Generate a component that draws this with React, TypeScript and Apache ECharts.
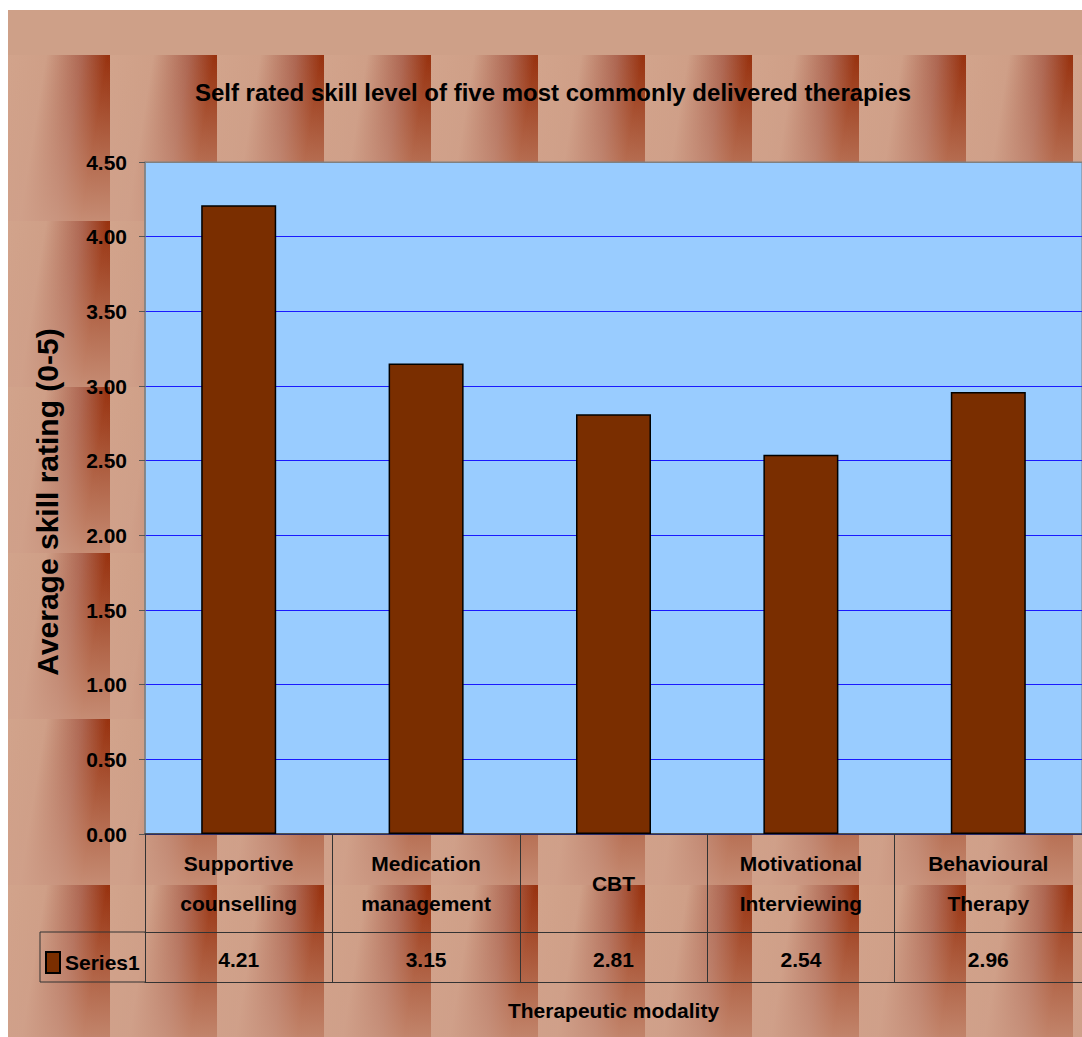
import React, { useEffect, useRef } from 'react';
import * as echarts from 'echarts';

const categories = ['Supportive counselling', 'Medication management', 'CBT', 'Motivational Interviewing', 'Behavioural Therapy'];
const values = [4.21, 3.15, 2.81, 2.54, 2.96];
const seriesName = 'Series1';
const yMin = 0;
const yMax = 4.5;
const yStep = 0.5;

const FONT = '"Liberation Sans", Arial, sans-serif';

const W = 1074;
const H = 1027;
const BG_TOP = 45;

function textureUrl() {
  const w = W;
  const h = H - BG_TOP;
  const svg =
    `<svg xmlns='http://www.w3.org/2000/svg' width='${w}' height='${h}'>` +
    `<defs>` +
    `<linearGradient id='h' x1='0' y1='0' x2='1' y2='0.25'>` +
    `<stop offset='0' stop-color='#d2a48c'/>` +
    `<stop offset='0.38' stop-color='#cf9f87'/>` +
    `<stop offset='0.7' stop-color='#ad6550'/>` +
    `<stop offset='0.92' stop-color='#98320f'/>` +
    `<stop offset='1' stop-color='#96300d'/>` +
    `</linearGradient>` +
    `<linearGradient id='v' x1='0' y1='0' x2='0' y2='1'>` +
    `<stop offset='0' stop-color='#d0a08a' stop-opacity='0'/>` +
    `<stop offset='0.25' stop-color='#d0a08a' stop-opacity='0.2'/>` +
    `<stop offset='0.6' stop-color='#d0a08a' stop-opacity='0.5'/>` +
    `<stop offset='1' stop-color='#d0a08a' stop-opacity='0.82'/>` +
    `</linearGradient>` +
    `<pattern id='p' x='-5' y='0' width='107' height='166' patternUnits='userSpaceOnUse'>` +
    `<rect width='107' height='166' fill='url(#h)'/>` +
    `<rect width='107' height='166' fill='url(#v)'/>` +
    `</pattern>` +
    `</defs>` +
    `<rect width='${w}' height='${h}' fill='url(#p)'/>` +
    `</svg>`;
  return 'data:image/svg+xml;charset=utf-8,' + encodeURIComponent(svg);
}

export default function App() {
  const ref = useRef<HTMLDivElement>(null);
  useEffect(() => {
    if (!ref.current) return;
    const chart = echarts.init(ref.current, undefined, { renderer: 'svg' });
    const nLines = Math.round((yMax - yMin) / yStep) + 1;
    const splitColors = Array.from({ length: nLines }, (_, i) => (i === nLines - 1 ? '#808080' : '#1a1aff'));
    const labelFont = { fontFamily: FONT, fontWeight: 'bold' as const, fontSize: 21, color: '#000' };
    chart.setOption({
      animation: false,
      backgroundColor: '#cea088',
      title: {
        text: 'Self rated skill level of five most commonly delivered therapies',
        left: 545,
        textAlign: 'center',
        top: 70,
        padding: 0,
        textStyle: { fontFamily: FONT, fontWeight: 'bold', fontSize: 24, color: '#000' },
      },
      legend: {
        data: [seriesName],
        left: 37,
        top: 941,
        padding: 0,
        itemWidth: 14,
        itemHeight: 21,
        itemGap: 0,
        icon: 'rect',
        textStyle: { ...labelFont, padding: [0, 0, 0, 0] },
      },
      grid: {
        left: 137,
        top: 152,
        right: -1,
        bottom: 203,
        show: true,
        backgroundColor: '#99ccff',
        borderColor: '#808080',
        borderWidth: 1,
      },
      xAxis: [
        {
          type: 'category',
          data: categories,
          position: 'bottom',
          axisLine: { show: true, lineStyle: { color: '#333', width: 1.5 } },
          axisTick: { show: true, alignWithLabel: false, length: 98, interval: 0, lineStyle: { color: '#333', width: 1 } },
          axisLabel: {
            ...labelFont,
            interval: 0,
            margin: 49,
            verticalAlign: 'middle',
            lineHeight: 40,
            formatter: (v: string) => v.replace(' ', '\n'),
          },
          splitLine: { show: false },
        },
        {
          type: 'category',
          data: categories,
          position: 'bottom',
          offset: 98,
          axisLine: { show: true, lineStyle: { color: '#333', width: 1 } },
          axisTick: { show: true, alignWithLabel: false, length: 50, interval: 0, lineStyle: { color: '#333', width: 1 } },
          axisLabel: {
            ...labelFont,
            interval: 0,
            margin: 27,
            verticalAlign: 'middle',
            formatter: (_v: string, i: number) => values[i].toFixed(2),
          },
          splitLine: { show: false },
        },
        {
          type: 'category',
          data: categories,
          position: 'bottom',
          offset: 148,
          axisLine: { show: true, lineStyle: { color: '#333', width: 1 } },
          axisTick: { show: false },
          axisLabel: { show: false },
          splitLine: { show: false },
          name: 'Therapeutic modality',
          nameLocation: 'middle',
          nameGap: 28,
          nameTextStyle: { ...labelFont, verticalAlign: 'middle' },
        },
      ],
      yAxis: {
        type: 'value',
        min: yMin,
        max: yMax,
        interval: yStep,
        axisLine: { show: true, lineStyle: { color: '#808080', width: 1.5 } },
        axisTick: { show: true, length: 6, lineStyle: { color: '#555' } },
        axisLabel: { ...labelFont, margin: 18, formatter: (v: number) => v.toFixed(2) },
        splitLine: { show: true, lineStyle: { color: splitColors, width: 1 } },
        name: 'Average skill rating (0-5)',
        nameLocation: 'middle',
        nameGap: 83,
        nameTextStyle: { fontFamily: FONT, fontWeight: 'bold', fontSize: 30, color: '#000', padding: [0, 8, 0, 0] },
      },
      graphic: [
        {
          type: 'image',
          silent: true,
          z: -10,
          x: 0,
          y: BG_TOP,
          style: { image: textureUrl(), x: 0, y: 0, width: W, height: H - BG_TOP },
        },
        { type: 'line', silent: true, shape: { x1: 32, y1: 922, x2: 137, y2: 922 }, style: { stroke: '#333', lineWidth: 1 } },
        { type: 'line', silent: true, shape: { x1: 32, y1: 972, x2: 137, y2: 972 }, style: { stroke: '#333', lineWidth: 1 } },
        { type: 'line', silent: true, shape: { x1: 32, y1: 922, x2: 32, y2: 972 }, style: { stroke: '#333', lineWidth: 1 } },
      ],
      series: [
        {
          name: seriesName,
          type: 'bar',
          data: values,
          xAxisIndex: 0,
          barWidth: 75,
          itemStyle: { color: '#7a2e00', borderColor: '#000', borderWidth: 1.5 },
        },
      ],
    });
    return () => chart.dispose();
  }, []);
  return (
    <div
      ref={ref}
      style={{ position: 'absolute', left: 8, top: 10, width: W, height: H }}
    />
  );
}
